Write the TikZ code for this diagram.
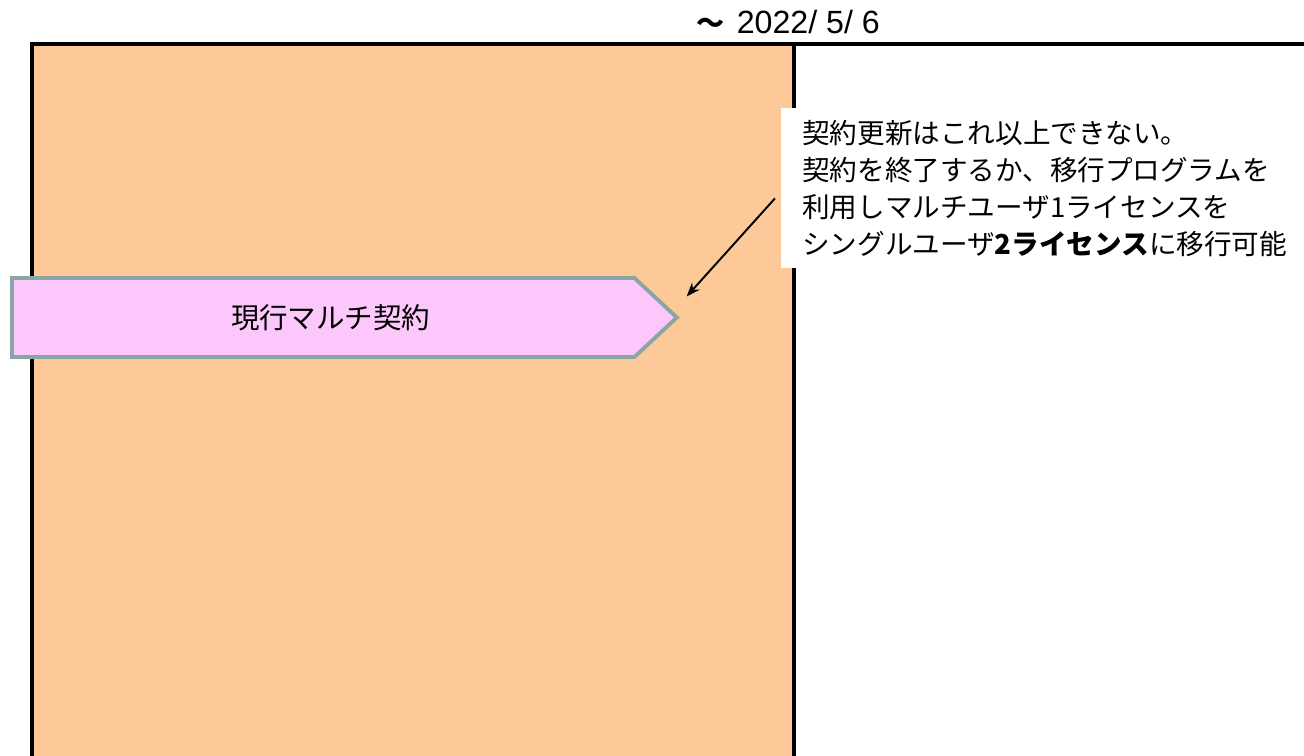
\documentclass[tikz,border=0pt]{standalone}
\usepackage{fontspec}
\setmainfont{Liberation Sans}
\newfontfamily\jp{Noto Sans CJK JP}
\usetikzlibrary{positioning,arrows.meta,shapes.symbols}

\definecolor{periodfill}{HTML}{FDC998}
\definecolor{contractfill}{HTML}{FCC8FC}
\definecolor{contractline}{HTML}{8BA5A5}

\begin{document}
\begin{tikzpicture}[
    x=0.02cm, y=-0.02cm,
    >=Stealth,
    period/.style={fill=periodfill},
    border/.style={line width=2.3pt, line cap=rect},
    contract/.style={draw=contractline, fill=contractfill, line width=2.2pt,
      shape=signal, signal to=east, signal pointer angle=86,
      minimum width=13.3cm, minimum height=1.58cm, inner sep=0pt,
      font=\jp\fontsize{16.2}{19}\selectfont},
    note/.style={fill=white, align=left, inner xsep=0.42cm, inner ysep=0pt,
      minimum width=10.5cm, minimum height=3.2cm, text width=9.7cm,
      font=\jp\fontsize{15.7}{21}\selectfont},
    note arrow/.style={->, line width=1.1pt}
  ]
  \useasboundingbox (0,0) rectangle (1304,756);

  % period up to the date
  \fill[period] (32,44) rectangle (794,760);
  \draw[border] (32,760) -- (32,44) -- (1310,44);
  \draw[border] (794,44) -- (794,760);
  \node (date) at (788,22) {{\jp\fontsize{16}{20}\selectfont\bfseries 〜}\hspace{0.25cm}\fontsize{18.3}{20}\selectfont 2022/ 5/ 6};

  % current contract
  \node[contract, anchor=west] (current) at (10,317.5) {\hspace*{0.3cm}現行マルチ契約};

  % note
  \node[note, anchor=north west] (memo) at (781,108)
    {契約更新はこれ以上できない。\\
     契約を終了するか、移行プログラムを\\
     利用しマルチユーザ1ライセンスを\\
     シングルユーザ\textbf{2ライセンス}に移行可能};
  \coordinate (memo tail) at ([xshift=-0.12cm,yshift=-0.2cm]memo.west);
  \draw[note arrow] (memo tail) -- ([xshift=0.14cm,yshift=0.42cm]current.east);

\end{tikzpicture}
\end{document}
